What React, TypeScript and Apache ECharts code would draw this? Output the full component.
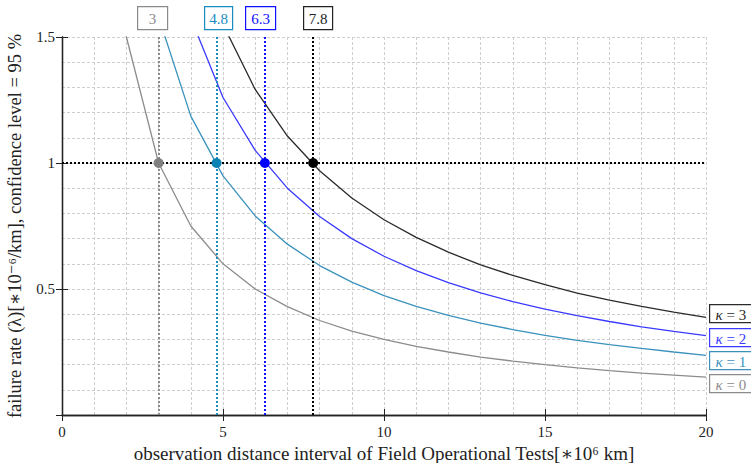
import React, { useEffect, useRef } from "react";
import * as echarts from "echarts";

const distances = [1, 2, 3, 4, 5, 6, 7, 8, 9, 10, 11, 12, 13, 14, 15, 16, 17, 18, 19, 20];
const kappa0 = [3.0, 1.5, 1.0, 0.75, 0.6, 0.5, 0.43, 0.375, 0.333, 0.3, 0.272, 0.25, 0.23, 0.214, 0.2, 0.187, 0.176, 0.166, 0.158, 0.15];
const kappa1 = [4.74, 2.37, 1.58, 1.186, 0.949, 0.79, 0.678, 0.593, 0.527, 0.474, 0.431, 0.395, 0.365, 0.339, 0.316, 0.296, 0.279, 0.264, 0.25, 0.237];
const kappa2 = [6.3, 3.15, 2.1, 1.575, 1.26, 1.05, 0.9, 0.7875, 0.7, 0.63, 0.573, 0.525, 0.485, 0.45, 0.42, 0.394, 0.371, 0.35, 0.332, 0.315];
const kappa3 = [7.75, 3.875, 2.583, 1.938, 1.55, 1.292, 1.107, 0.969, 0.861, 0.775, 0.705, 0.646, 0.596, 0.554, 0.517, 0.484, 0.456, 0.431, 0.408, 0.3875];
const thresholds = [3, 4.8, 6.3, 7.8];
const thresholdLabels = ["3", "4.8", "6.3", "7.8"];
const targetRate = 1;
const kappaValues = ["0", "1", "2", "3"];

const lineColors = ["#8c8c8c", "#3a92bd", "#3a3aff", "#2a2a2a"];
const dotColors = ["#7f7f7f", "#0a82b4", "#0000ff", "#000000"];
const refColors = ["#8a8a8a", "#1a8cc0", "#1010ff", "#000000"];

const FONT = "'Liberation Serif', 'DejaVu Serif', serif";

export default function App() {
  const ref = useRef<HTMLDivElement>(null);
  useEffect(() => {
    if (!ref.current) return;
    const chart = echarts.init(ref.current, null, { renderer: "svg" });
    const curves = [kappa0, kappa1, kappa2, kappa3];
    const gridLine = { show: true, lineStyle: { color: "#cfcfcf", type: [3, 2], width: 1 } };
    const lineSeries = curves.map((vals, i) => ({
      type: "line",
      name: "κ = " + kappaValues[i],
      data: distances.map((d, j) => [d, vals[j]]),
      showSymbol: false,
      clip: true,
      lineStyle: { color: lineColors[i], width: 1.3 },
      z: 3,
      silent: true,
    }));
    const refSeries = thresholds.map((t, i) => ({
      type: "line",
      data: [],
      silent: true,
      markLine: {
        symbol: "none",
        silent: true,
        label: { show: false },
        lineStyle: { color: refColors[i], type: "dotted", width: 2 },
        data: [{ xAxis: t }],
      },
      z: 4,
    }));
    const horiz = {
      type: "line",
      data: [],
      markLine: {
        symbol: "none",
        silent: true,
        label: { show: false },
        lineStyle: { color: "#000", type: "dotted", width: 2 },
        data: [{ yAxis: targetRate }],
      },
      z: 4,
    };
    const dots = {
      type: "scatter",
      symbolSize: 10,
      z: 6,
      silent: true,
      data: thresholds.map((t, i) => ({ value: [t, targetRate], itemStyle: { color: dotColors[i], opacity: 1 } })),
    };
    const commonAxis = {
      axisLine: { show: true, lineStyle: { color: "#222", width: 1.3 } },
      axisTick: { show: true, inside: true, length: 6, lineStyle: { color: "#222" } },
    };
    chart.setOption({
      animation: false,
      backgroundColor: "#fff",
      textStyle: { fontFamily: FONT },
      grid: { left: 62, right: 45, top: 37, bottom: 48, containLabel: false, outerBoundsMode: "none" },
      xAxis: [
        {
          type: "value",
          min: 0,
          max: 20,
          interval: 5,
          ...commonAxis,
          splitLine: gridLine,
          minorTick: { show: false, splitNumber: 5 },
          minorSplitLine: gridLine,
          axisLabel: { color: "#222", fontSize: 15, fontFamily: FONT, margin: 9 },
          name: "observation distance interval of Field Operational Tests[∗10⁶ km]",
          nameLocation: "middle",
          nameGap: 27,
          nameTextStyle: { color: "#222", fontSize: 19, fontFamily: FONT },
        },
        {
          type: "value",
          position: "top",
          min: 0,
          max: 20,
          interval: 5,
          ...commonAxis,
          axisLabel: { show: false },
          splitLine: { show: false },
        },
      ],
      yAxis: [
        {
          type: "value",
          min: 0,
          max: 1.5,
          interval: 0.5,
          ...commonAxis,
          splitLine: gridLine,
          minorTick: { show: false, splitNumber: 5 },
          minorSplitLine: gridLine,
          axisLabel: {
            color: "#222",
            fontSize: 15,
            fontFamily: FONT,
            margin: 7,
            formatter: (v: number) => (v === 0 ? "" : String(v)),
          },
          name: "failure rate (λ)[∗10⁻⁶/km], confidence level = 95 %",
          nameLocation: "middle",
          nameGap: 38,
          nameTextStyle: { color: "#222", fontSize: 18.5, fontFamily: FONT },
        },
        {
          type: "value",
          position: "right",
          min: 0,
          max: 1.5,
          interval: 0.5,
          ...commonAxis,
          axisLabel: { show: false },
          splitLine: { show: false },
        },
      ],
      series: [...lineSeries, ...refSeries, horiz, dots],
      graphic: [
        ...thresholdLabels.map((lab, i) => ({
          type: "group",
          left: [137, 204, 245, 303][i],
          top: 6,
          children: [
            { type: "rect", shape: { x: 0, y: 0, width: [30, 28, 30, 29][i], height: 23 }, style: { fill: "#fff", stroke: refColors[i] === "#000000" ? "#222" : refColors[i], lineWidth: 1.2 } },
            { type: "text", x: [30, 28, 30, 29][i] / 2, y: 12, style: { text: lab, fill: refColors[i] === "#000000" ? "#222" : refColors[i], font: "15px " + FONT, align: "center", verticalAlign: "middle" } },
          ],
        })),
        ...kappaValues.map((v, i) => ({
          type: "group",
          left: 709,
          top: [374, 351, 328, 304][i],
          children: [
            { type: "rect", shape: { x: 0, y: 0, width: 60, height: 18 }, style: { fill: "#fff", stroke: lineColors[i], lineWidth: 1.2 } },
            {
              type: "text",
              x: 6,
              y: 10,
              style: {
                text: "{i|κ} = " + v,
                fill: lineColors[i],
                font: "15px " + FONT,
                align: "left",
                verticalAlign: "middle",
                rich: { i: { fontStyle: "italic", fontSize: 15, fontFamily: FONT, fill: lineColors[i] } },
              },
            },
          ],
        })),
      ],
    });
    return () => chart.dispose();
  }, []);
  return <div ref={ref} style={{ width: 751, height: 463, position: "absolute", left: 0, top: 0 }} />;
}
